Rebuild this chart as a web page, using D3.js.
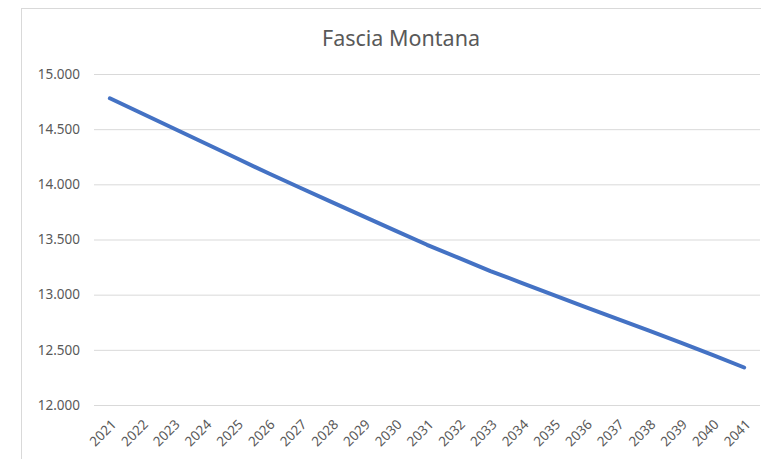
<!DOCTYPE html>
<html>
<head>
<meta charset="utf-8">
<script src="https://cdn.jsdelivr.net/npm/d3@7"></script>
<style>
  body { margin: 0; background: #fff; overflow: hidden; }
  svg { display: block; font-family: "Noto Sans", "Open Sans", sans-serif; }
</style>
</head>
<body>
<div id="chart"></div>
<script>
// Chart size and plot margins
const width = 761;
const height = 459;
const margin = {left: 94, right: 1, top: 74, bottom: 54};

// Data
const years = ["2021","2022","2023","2024","2025","2026","2027","2028","2029","2030",
               "2031","2032","2033","2034","2035","2036","2037","2038","2039","2040","2041"];
const values = [14780, 14644, 14508, 14372, 14236, 14100, 13969, 13839, 13710, 13581,
                13452, 13333, 13214, 13105, 12995, 12888, 12780, 12673, 12566, 12455, 12340];
const yTicks = [12000, 12500, 13000, 13500, 14000, 14500, 15000];
const title = "Fascia Montana";

const svg = d3.select("#chart")
  .append("svg")
  .attr("width", width)
  .attr("height", height);

// Chart frame (only left and top visible in the picture)
svg.append("rect")
  .attr("x", 21.5)
  .attr("y", 8.5)
  .attr("width", width + 10)
  .attr("height", height + 10)
  .attr("fill", "#fff")
  .attr("stroke", "#d9d9d9");

// Scales
const xScale = d3.scaleBand()
  .domain(years)
  .range([margin.left, width - margin.right]);

const yScale = d3.scaleLinear()
  .domain([12000, 15000])
  .range([height - margin.bottom, margin.top]);

// Gridlines + y labels
const yAxis = svg.append("g")
  .attr("transform", `translate(${margin.left},0)`)
  .call(d3.axisLeft(yScale)
    .tickValues(yTicks)
    .tickSize(-(width - margin.right - margin.left))
    .tickPadding(14)
    .tickFormat(d => d3.format(",")(d).replace(/,/g, ".")));
yAxis.select(".domain").remove();
yAxis.selectAll(".tick line").attr("stroke", "#d9d9d9").attr("stroke-width", 1);
yAxis.selectAll(".tick text")
  .attr("fill", "#595959")
  .attr("font-size", "13.5px")
  .attr("font-family", "'Noto Sans', sans-serif");

// X labels, rotated
const xAxis = svg.append("g")
  .attr("transform", `translate(0,${height - margin.bottom})`)
  .call(d3.axisBottom(xScale).tickSize(0).tickPadding(0));
xAxis.select(".domain").remove();
xAxis.selectAll(".tick text")
  .attr("fill", "#595959")
  .attr("font-size", "13.5px")
  .attr("font-family", "'Noto Sans', sans-serif")
  .attr("text-anchor", "end")
  .attr("dy", "0.35em")
  .attr("transform", "translate(4,17) rotate(-45)");

// Line
const line = d3.line()
  .x((d, i) => xScale(years[i]) + xScale.bandwidth() / 2)
  .y(d => yScale(d));

svg.append("path")
  .datum(values)
  .attr("fill", "none")
  .attr("stroke", "#4472c4")
  .attr("stroke-width", 4)
  .attr("stroke-linecap", "round")
  .attr("stroke-linejoin", "round")
  .attr("d", line);

// Title
svg.append("text")
  .attr("x", 401)
  .attr("y", 46)
  .attr("text-anchor", "middle")
  .attr("fill", "#595959")
  .attr("font-size", "21.5px")
  .text(title);
</script>
</body>
</html>
